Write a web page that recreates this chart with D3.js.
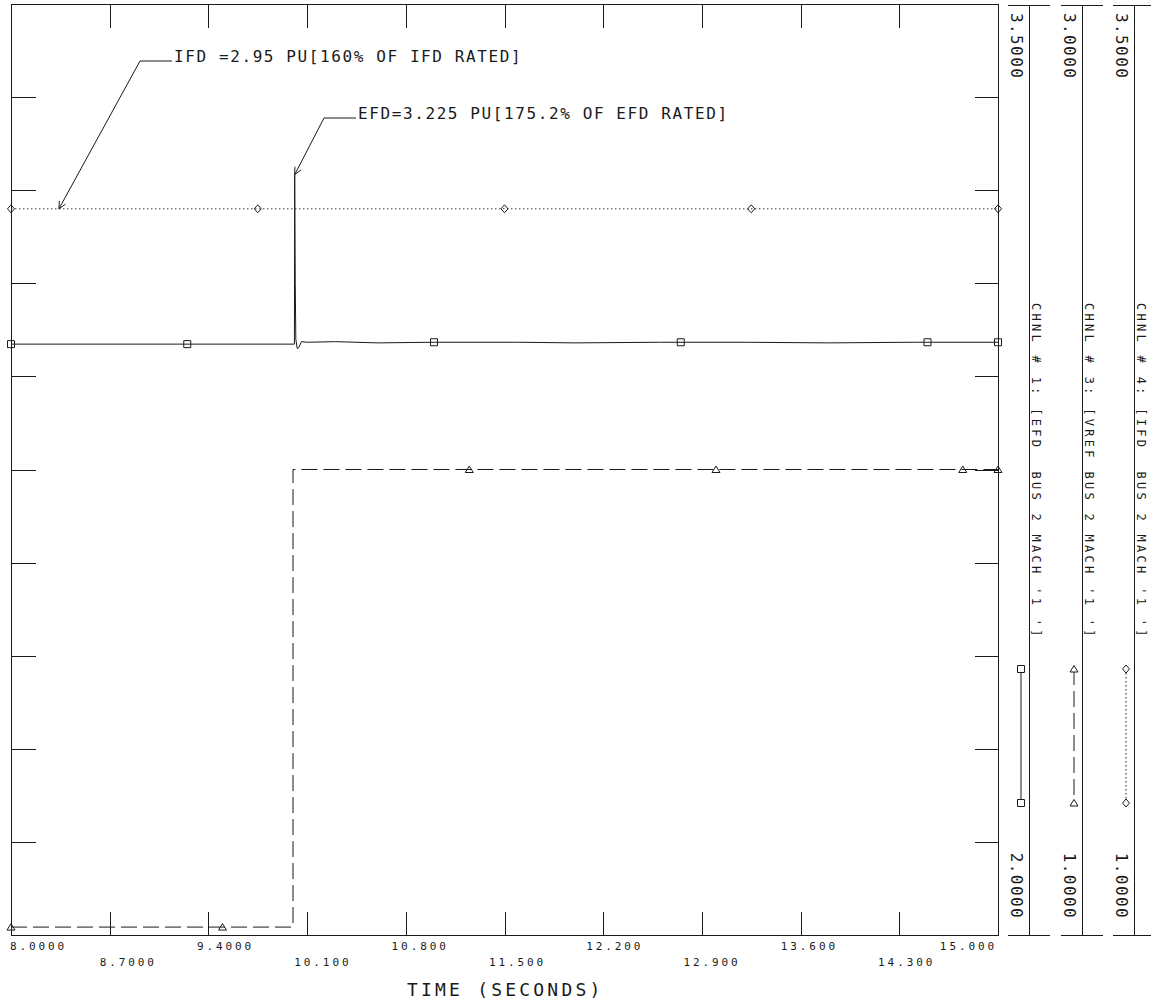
<!doctype html>
<html>
<head>
    <meta charset="utf-8"/>
    <style>
        html, body { margin: 0; padding: 0; background: #fff; }
        svg { display: block; }
        text { font-family: "DejaVu Sans Mono", monospace; fill: #1a1a1a; white-space: pre; }
        .frame line, .frame rect, .tick line { stroke: #1a1a1a; stroke-width: 1; shape-rendering: crispEdges; }
    </style>
    <script src="https://d3js.org/d3.v7.min.js"></script>
</head>
<body>
<svg id="chart" width="1151" height="999"></svg>

<script>
    // ---- data ----
    var xTicks = [8.0, 8.7, 9.4, 10.1, 10.8, 11.5, 12.2, 12.9, 13.6, 14.3, 15.0];
    var xTickLabels = ["8.0000", "8.7000", "9.4000", "10.100", "10.800", "11.500",
                       "12.200", "12.900", "13.600", "14.300", "15.000"];

    var chnlNames = ["CHNL # 1: [EFD  BUS 2 MACH '1 ']",
                     "CHNL # 3: [VREF BUS 2 MACH '1 ']",
                     "CHNL # 4: [IFD  BUS 2 MACH '1 ']"];
    var chnlMin = [2.0, 1.0, 1.0];
    var chnlMax = [3.5, 3.0, 3.5];

    // channel 1 : EFD
    var efdT = [8.0, 10.010, 10.012, 10.016, 10.020, 10.030, 10.040, 10.060, 10.100, 10.300,
                10.600, 11.000, 11.600, 12.000, 12.600, 13.200, 13.800, 14.400, 15.0];
    var efdV = [2.952, 2.952, 3.225, 3.050, 2.960, 2.945, 2.946, 2.956, 2.955, 2.956,
                2.954, 2.955, 2.955, 2.954, 2.955, 2.955, 2.954, 2.955, 2.955];
    var efdMarkT = [8.0, 9.25, 11.0, 12.75, 14.5, 15.0];

    // channel 3 : VREF
    var vrefT = [8.0, 10.0, 10.0, 15.0];
    var vrefV = [1.017, 1.017, 2.0, 2.0];
    var vrefMarkT = [8.0, 9.5, 11.25, 13.0, 14.75, 15.0];

    // channel 4 : IFD
    var ifdT = [8.0, 15.0];
    var ifdV = [2.95, 2.95];
    var ifdMarkT = [8.0, 9.75, 11.5, 13.25, 15.0];

    var annoText = ["IFD =2.95 PU[160% OF IFD RATED]", "EFD=3.225 PU[175.2% OF EFD RATED]"];
    var annoT = [8.34, 10.012];
    var annoV = [2.95, 3.225];
    var annoChnl = [2, 0];

    // ---- layout ----
    var svg = d3.select("#chart");
    var L = 11, R = 998, T = 4, B = 935;

    var x = d3.scaleLinear().domain([8, 15]).range([L, R]);
    var ys = chnlMin.map(function(m, i) {
        return d3.scaleLinear().domain([m, chnlMax[i]]).range([B, T]);
    });

    function zip(ts, vs) { return ts.map(function(t, i) { return [t, vs[i]]; }); }
    function valueAt(ts, vs, t) {
        // last sample at or before t, interpolated to the next one
        var i = d3.bisectRight(ts, t) - 1;
        if (i < 0) return vs[0];
        if (i >= ts.length - 1) return vs[ts.length - 1];
        var f = (t - ts[i]) / (ts[i + 1] - ts[i] || 1);
        return vs[i] + f * (vs[i + 1] - vs[i]);
    }

    var series = [
        {T: efdT, V: efdV, marks: efdMarkT, dash: null, marker: "square"},
        {T: vrefT, V: vrefV, marks: vrefMarkT, dash: "16,6", marker: "triangle"},
        {T: ifdT, V: ifdV, marks: ifdMarkT, dash: "1.5,2.5", marker: "diamond"}
    ];

    var markerPath = {
        square: "M-3.5,-3.5H3.5V3.5H-3.5Z",
        triangle: "M0,-3.5L4,3L-4,3Z",
        diamond: "M0,-4L3.5,0L0,4L-3.5,0Z"
    };

    // ---- frame and inside ticks ----
    var frame = svg.append("g").attr("class", "frame");
    frame.append("rect").attr("x", L).attr("y", T).attr("width", R - L).attr("height", B - T)
        .attr("fill", "none");

    var innerX = xTicks.slice(1, -1);
    var innerY = d3.range(1, 10).map(function(i) { return chnlMin[0] + i * (chnlMax[0] - chnlMin[0]) / 10; });

    svg.append("g").attr("transform", "translate(0," + T + ")")
        .call(d3.axisTop(x).tickValues(innerX).tickSize(-24).tickFormat(""))
        .call(function(g) { g.select(".domain").remove(); });
    svg.append("g").attr("transform", "translate(0," + B + ")")
        .call(d3.axisBottom(x).tickValues(innerX).tickSize(-23).tickFormat(""))
        .call(function(g) { g.select(".domain").remove(); });
    svg.append("g").attr("transform", "translate(" + L + ",0)")
        .call(d3.axisLeft(ys[0]).tickValues(innerY).tickSize(-25).tickFormat(""))
        .call(function(g) { g.select(".domain").remove(); });
    svg.append("g").attr("transform", "translate(" + R + ",0)")
        .call(d3.axisRight(ys[0]).tickValues(innerY).tickSize(-23).tickFormat(""))
        .call(function(g) { g.select(".domain").remove(); });

    // x tick labels, staggered in two rows
    svg.append("g").selectAll("text").data(xTicks).enter().append("text")
        .attr("x", function(d, i) {
            if (i === 0) return x(d) - 1;
            if (i === xTicks.length - 1) return x(d) - 1;
            return x(d) - 10 - 1.4 * (i - 1);
        })
        .attr("y", function(d, i) { return i % 2 === 0 ? 950 : 966; })
        .attr("text-anchor", function(d, i) { return i === xTicks.length - 1 ? "end" : "start"; })
        .style("font-size", "11px")
        .style("letter-spacing", "2.9px")
        .text(function(d, i) { return xTickLabels[i]; });

    svg.append("text").attr("x", 407).attr("y", 996)
        .style("font-size", "18px").style("letter-spacing", "3.2px")
        .text("TIME (SECONDS)");

    // ---- traces ----
    var plot = svg.append("g");
    series.forEach(function(s, k) {
        var y = ys[k];
        var line = d3.line().x(function(d) { return x(d[0]); }).y(function(d) { return y(d[1]); });
        plot.append("path")
            .attr("d", line(zip(s.T, s.V)))
            .attr("fill", "none")
            .attr("stroke", k === 2 ? "#333" : "#1a1a1a")
            .attr("stroke-width", 1)
            .attr("stroke-dasharray", s.dash);
        plot.selectAll(null).data(s.marks).enter().append("path")
            .attr("d", markerPath[s.marker])
            .attr("transform", function(t) {
                return "translate(" + x(t) + "," + y(valueAt(s.T, s.V, t)) + ")";
            })
            .attr("fill", "none")
            .attr("stroke", "#1a1a1a")
            .attr("stroke-width", 1);
    });

    // ---- annotations with leaders ----
    var knee = [[140, 61], [324, 118]];
    annoText.forEach(function(txt, i) {
        var tx = x(annoT[i]), ty = ys[annoChnl[i]](annoV[i]);
        var kx = knee[i][0], ky = knee[i][1];
        var g = svg.append("g").attr("stroke", "#1a1a1a").attr("stroke-width", 1);
        g.append("line").attr("x1", kx).attr("y1", ky).attr("x2", kx + 32).attr("y2", ky);
        g.append("line").attr("x1", kx).attr("y1", ky).attr("x2", tx).attr("y2", ty);
        var ang = Math.atan2(ky - ty, kx - tx);
        [-0.45, 0.45].forEach(function(da) {
            g.append("line").attr("x1", tx).attr("y1", ty)
                .attr("x2", tx + 8 * Math.cos(ang + da))
                .attr("y2", ty + 8 * Math.sin(ang + da));
        });
        svg.append("text").attr("x", kx + 34).attr("y", ky + 1)
            .style("font-size", "16px").style("letter-spacing", "1.6px")
            .text(txt);
    });

    // ---- right-hand channel scales with legends ----
    var axX = [1029, 1082, 1134];
    var fmt = d3.format(".4f");
    chnlNames.forEach(function(name, k) {
        var ax = axX[k];
        var g = svg.append("g").attr("class", "frame");
        g.append("line").attr("x1", ax).attr("x2", ax).attr("y1", T + 1).attr("y2", B);
        g.append("line").attr("x1", ax - 21).attr("x2", ax + 21).attr("y1", T + 1).attr("y2", T + 1);
        g.append("line").attr("x1", ax - 21).attr("x2", ax + 21).attr("y1", B).attr("y2", B);

        svg.append("text")
            .attr("transform", "translate(" + (ax - 18) + "," + 13 + ") rotate(90)")
            .style("font-size", "16px").style("letter-spacing", "1.4px")
            .text(fmt(ys[k].domain()[1]));
        svg.append("text")
            .attr("transform", "translate(" + (ax - 18) + "," + 919 + ") rotate(90)")
            .attr("text-anchor", "end")
            .style("font-size", "16px").style("letter-spacing", "1.4px")
            .text(fmt(ys[k].domain()[0]));
        svg.append("text")
            .attr("transform", "translate(" + (ax + 3) + "," + 303 + ") rotate(90)")
            .style("font-size", "12px").style("letter-spacing", "3.3px")
            .text(name);

        // legend sample
        var lx = ax - 8, y0 = 669, y1 = 803;
        var s = series[k];
        svg.append("line").attr("x1", lx).attr("x2", lx).attr("y1", y0).attr("y2", y1)
            .attr("stroke", "#1a1a1a").attr("stroke-width", 1)
            .attr("stroke-dasharray", s.dash);
        [y0, y1].forEach(function(yy) {
            svg.append("path").attr("d", markerPath[s.marker])
                .attr("transform", "translate(" + lx + "," + yy + ")")
                .attr("fill", "#fff").attr("stroke", "#1a1a1a").attr("stroke-width", 1);
        });
    });
</script>
</body>
</html>
